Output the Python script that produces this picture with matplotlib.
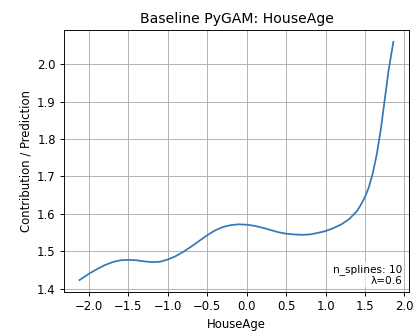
import matplotlib
matplotlib.use("Agg")
import matplotlib.pyplot as plt

# partial dependence of HouseAge
house_age = [-2.12, -2.0, -1.9, -1.8, -1.7, -1.6, -1.5, -1.4, -1.3, -1.2,
             -1.1, -1.0, -0.9, -0.8, -0.7, -0.6, -0.5, -0.4, -0.3, -0.2,
             -0.1, 0.0, 0.1, 0.2, 0.3, 0.4, 0.5, 0.6, 0.7, 0.8,
             0.9, 1.0, 1.1, 1.2, 1.3, 1.4, 1.45, 1.5, 1.55, 1.6,
             1.65, 1.7, 1.75, 1.8, 1.86]
contribution = [1.423, 1.440, 1.452, 1.463, 1.471, 1.476, 1.477, 1.476, 1.473, 1.471,
                1.472, 1.478, 1.487, 1.499, 1.513, 1.528, 1.543, 1.556, 1.565, 1.570,
                1.572, 1.571, 1.568, 1.563, 1.557, 1.551, 1.547, 1.545, 1.544, 1.545,
                1.549, 1.554, 1.562, 1.572, 1.586, 1.608, 1.625, 1.645, 1.672, 1.710,
                1.760, 1.825, 1.905, 1.985, 2.060]

n_splines = 10
lam = 0.6

fig, ax = plt.subplots(figsize=(5, 4), dpi=84)
fig.subplots_adjust(left=0.152, right=0.974, top=0.911, bottom=0.131)

ax.plot(house_age, contribution, color="#3478b6", linewidth=1.5)
ax.set_title("Baseline PyGAM: HouseAge")
ax.set_xlabel("HouseAge")
ax.set_ylabel("Contribution / Prediction")
ax.grid(True)

ax.text(0.982, 0.022, f"n_splines: {n_splines}\nλ={lam}", transform=ax.transAxes,
        ha="right", va="bottom", fontsize=9,
        bbox=dict(facecolor="white", edgecolor="none", alpha=0.7, pad=1))

plt.savefig("out.png", dpi=84)
